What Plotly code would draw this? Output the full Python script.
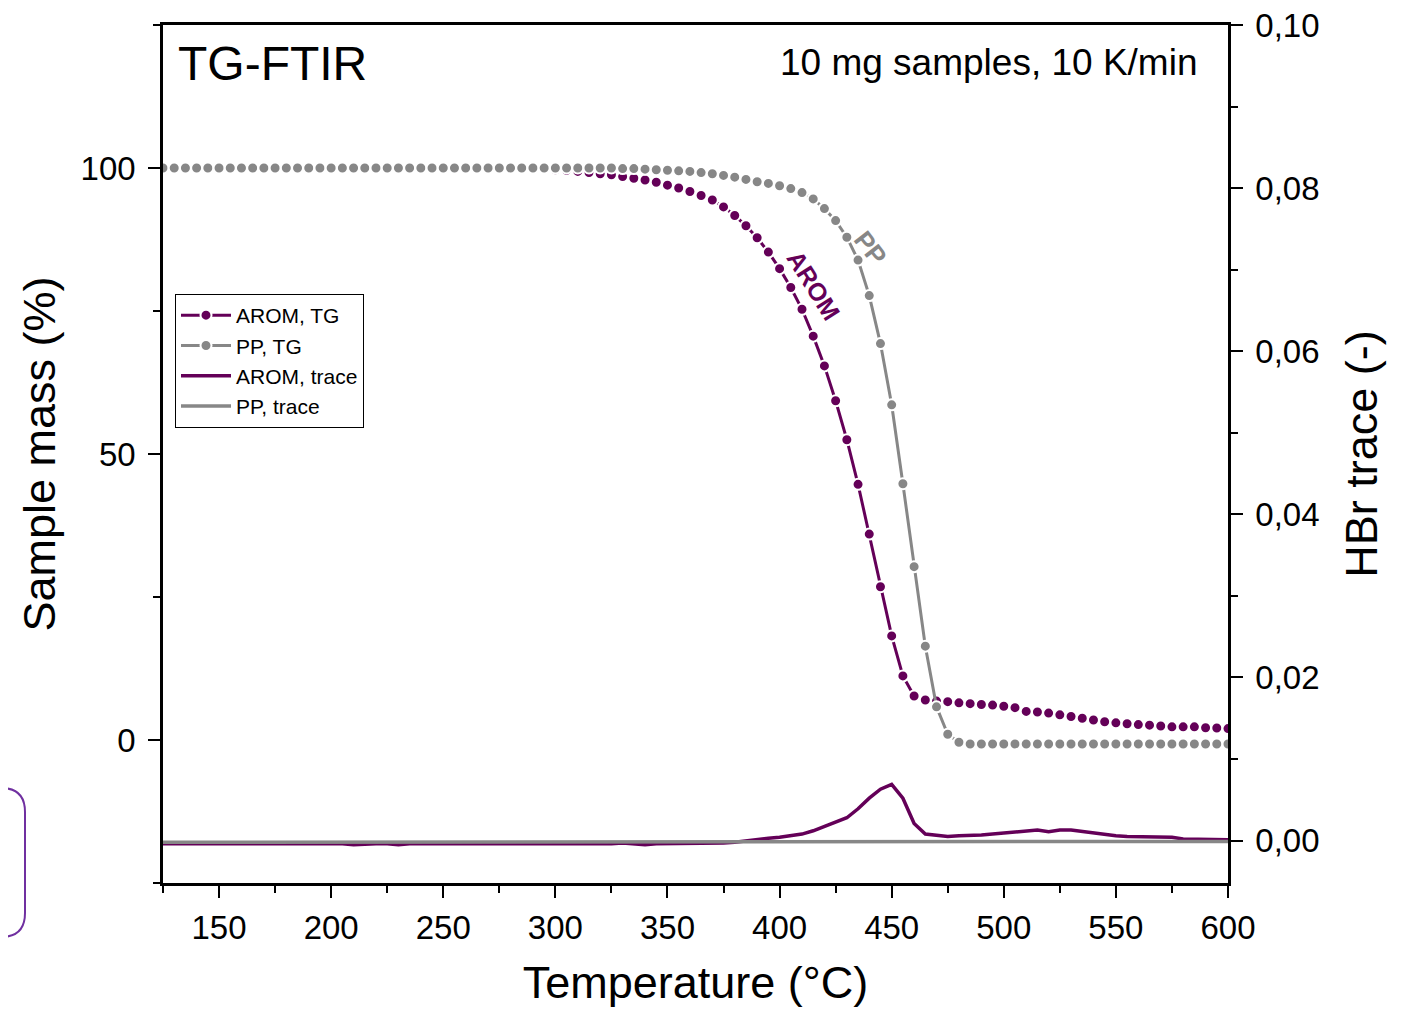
import plotly.graph_objects as go

# ---------------- data ----------------
temperature = list(range(125, 605, 5))  # °C, sampling grid (5 K steps)

arom_tg = [
    100.0, 100.0, 100.0, 100.0, 100.0, 100.0, 100.0, 100.0, 100.0, 100.0,   # 125-170
    100.0, 100.0, 100.0, 100.0, 100.0, 100.0, 100.0, 100.0, 100.0, 100.0,   # 175-220
    100.0, 100.0, 100.0, 100.0, 100.0, 100.0, 100.0, 100.0, 100.0, 100.0,   # 225-270
    100.0, 100.0, 100.0, 99.9, 99.8, 99.7, 99.6, 99.4, 99.2, 99.0,          # 275-320
    98.8, 98.5, 98.2, 97.9, 97.5, 97.0, 96.5, 95.9, 95.2, 94.4,             # 325-370
    93.2, 91.7, 89.9, 87.8, 85.3, 82.4, 79.1, 75.3, 70.6, 65.4,             # 375-420
    59.3, 52.5, 44.7, 36.0, 26.8, 18.2, 11.2, 7.7, 7.0, 6.8,                # 425-470
    6.7, 6.5, 6.35, 6.2, 6.1, 5.9, 5.65, 5.0, 4.9, 4.7,                     # 475-520
    4.4, 4.1, 3.8, 3.5, 3.2, 3.0, 2.85, 2.7, 2.6, 2.45,                     # 525-570
    2.3, 2.3, 2.3, 2.15, 2.1, 2.0,                                          # 575-600
]

pp_tg = [
    100.0, 100.0, 100.0, 100.0, 100.0, 100.0, 100.0, 100.0, 100.0, 100.0,   # 125-170
    100.0, 100.0, 100.0, 100.0, 100.0, 100.0, 100.0, 100.0, 100.0, 100.0,   # 175-220
    100.0, 100.0, 100.0, 100.0, 100.0, 100.0, 100.0, 100.0, 100.0, 100.0,   # 225-270
    100.0, 100.0, 100.0, 100.0, 100.0, 100.0, 100.0, 100.0, 100.0, 100.0,   # 275-320
    100.0, 99.9, 99.9, 99.8, 99.7, 99.6, 99.5, 99.4, 99.2, 99.0,            # 325-370
    98.7, 98.4, 98.0, 97.6, 97.3, 96.9, 96.4, 95.7, 94.6, 92.9,             # 375-420
    90.8, 87.9, 83.9, 77.7, 69.3, 58.6, 44.8, 30.3, 16.4, 5.8,              # 425-470
    1.0, -0.4, -0.7, -0.7, -0.7, -0.7, -0.7, -0.7, -0.7, -0.7,              # 475-520
    -0.7, -0.7, -0.7, -0.7, -0.7, -0.7, -0.7, -0.7, -0.7, -0.7,             # 525-570
    -0.7, -0.7, -0.7, -0.7, -0.7, -0.7,                                     # 575-600
]

arom_trace = [
    -0.0004, -0.0004, -0.0003, -0.0004, -0.0004, -0.0003, -0.0004, -0.0004, -0.0003, -0.0004,  # 125-170
    -0.0004, -0.0003, -0.0004, -0.0004, -0.0004, -0.0003, -0.0004, -0.0005, -0.0004, -0.0004,  # 175-220
    -0.0004, -0.0005, -0.0004, -0.0004, -0.0005, -0.0004, -0.0004, -0.0004, -0.0005, -0.0004,  # 225-270
    -0.0004, -0.0004, -0.0005, -0.0004, -0.0004, -0.0004, -0.0005, -0.0004, -0.0004, -0.0004,  # 275-320
    -0.0004, -0.0003, -0.0004, -0.0005, -0.0004, -0.0004, -0.0004, -0.0004, -0.0004, -0.0004,  # 325-370
    -0.0003, -0.0002, 0.0000, 0.0001, 0.0003, 0.0004, 0.0006, 0.0008, 0.0012, 0.0017,          # 375-420
    0.0022, 0.0028, 0.0039, 0.0052, 0.0063, 0.0069, 0.0052, 0.0021, 0.0008, 0.0006,            # 425-470
    0.0005, 0.0006, 0.0006, 0.0007, 0.0008, 0.0009, 0.0010, 0.0011, 0.0013, 0.0011,            # 475-520
    0.0013, 0.0013, 0.0011, 0.0010, 0.0008, 0.0006, 0.0005, 0.0005, 0.0005, 0.0004,            # 525-570
    0.0004, 0.0002, 0.0002, 0.0001, 0.0001, 0.0001,                                            # 575-600
]

pp_trace = [
    -0.0002, -0.0002, -0.0002, -0.0001, -0.0002, -0.0002, -0.0002, -0.0002, -0.0002, -0.0002,  # 125-170
    -0.0002, -0.0002, -0.0001, -0.0002, -0.0002, -0.0002, -0.0002, -0.0002, -0.0002, -0.0002,  # 175-220
    -0.0002, -0.0002, -0.0002, -0.0002, -0.0002, -0.0002, -0.0002, -0.0001, -0.0002, -0.0002,  # 225-270
    -0.0002, -0.0002, -0.0002, -0.0002, -0.0002, -0.0002, -0.0002, -0.0002, -0.0002, -0.0002,  # 275-320
    -0.0002, -0.0001, -0.0002, -0.0002, -0.0002, -0.0002, -0.0002, -0.0002, -0.0002, -0.0002,  # 325-370
    -0.0002, -0.0002, -0.0002, -0.0002, -0.0002, -0.0002, -0.0002, -0.0002, -0.0002, -0.0002,  # 375-420
    -0.0002, -0.0002, -0.0002, -0.0002, -0.0002, -0.0002, -0.0002, -0.0002, -0.0002, -0.0002,  # 425-470
    -0.0002, -0.0002, -0.0002, -0.0002, -0.0002, -0.0002, -0.0002, -0.0002, -0.0001, -0.0002,  # 475-520
    -0.0002, -0.0001, -0.0002, -0.0002, -0.0002, -0.0002, -0.0002, -0.0001, -0.0002, -0.0001,  # 525-570
    -0.0001, -0.0001, -0.0001, -0.0001, -0.0001, -0.0001,                                      # 575-600
]

x_ticks = [150, 200, 250, 300, 350, 400, 450, 500, 550, 600]
mass_ticks = [0, 50, 100]
hbr_ticks = [0.00, 0.02, 0.04, 0.06, 0.08, 0.10]

# ---------------- styling ----------------
PURPLE = "#640058"
GREY = "#878787"
FONT = "Arial, 'Liberation Sans', sans-serif"

BODY = 8                          # default page margin of the HTML body
W_FIG, H_FIG = 1409 - 2 * BODY, 1016 - 2 * BODY
L, R, T, B = 163, 1228, 25, 883   # plot area in page pixels


def xp(px):
    return (px - L) / (R - L)


def yp(py):
    return (B - py) / (B - T)


fig = go.Figure()

fig.add_trace(go.Scatter(
    x=temperature, y=arom_tg, name="AROM, TG", mode="lines+markers",
    line=dict(color=PURPLE, width=3),
    marker=dict(color=PURPLE, size=11, line=dict(color="white", width=2)),
))
fig.add_trace(go.Scatter(
    x=temperature, y=pp_tg, name="PP, TG", mode="lines+markers",
    line=dict(color=GREY, width=3),
    marker=dict(color=GREY, size=11, line=dict(color="white", width=2)),
))
fig.add_trace(go.Scatter(
    x=temperature, y=arom_trace, name="AROM, trace", mode="lines", yaxis="y2",
    line=dict(color=PURPLE, width=3.5),
))
fig.add_trace(go.Scatter(
    x=temperature, y=pp_trace, name="PP, trace", mode="lines", yaxis="y2",
    line=dict(color=GREY, width=3.5),
))

axis_common = dict(
    showline=True, linecolor="black", linewidth=2.5,
    ticks="outside", ticklen=12, tickwidth=2, tickcolor="black",
    showgrid=False, zeroline=False, ticklabeloverflow="allow",
    tickfont=dict(family=FONT, size=33, color="black"),
)

ml, mt = L - BODY, T - BODY
fig.update_layout(
    width=W_FIG, height=H_FIG,
    margin=dict(l=ml, r=W_FIG - ml - (R - L), t=mt, b=H_FIG - mt - (B - T), autoexpand=False),
    paper_bgcolor="white", plot_bgcolor="white",
    separators=", ",
    font=dict(family=FONT, color="black"),
    showlegend=True,
    legend=dict(
        x=xp(175), y=yp(294), xanchor="left", yanchor="top",
        bgcolor="white", bordercolor="black", borderwidth=1,
        font=dict(family=FONT, size=21, color="black"),
        itemwidth=50, tracegroupgap=0,
    ),
    xaxis=dict(
        range=[125, 600], tickmode="array", tickvals=x_ticks,
        mirror=True, ticklabelstandoff=2,
        minor=dict(ticks="outside", ticklen=7, tickwidth=2, tickcolor="black", dtick=25, tick0=125),
        title=dict(text="Temperature (°C)", font=dict(family=FONT, size=45, color="black"), standoff=26),
        **axis_common,
    ),
    yaxis=dict(
        range=[-25, 125], tickmode="array", tickvals=mass_ticks, ticklabelstandoff=6,
        minor=dict(ticks="outside", ticklen=7, tickwidth=2, tickcolor="black", dtick=25, tick0=0),
        title=dict(text="Sample mass (%)", font=dict(family=FONT, size=45, color="black"), standoff=11),
        **axis_common,
    ),
    yaxis2=dict(
        overlaying="y", side="right", anchor="x",
        range=[-0.0052, 0.1], tickmode="array", tickvals=hbr_ticks, tickformat=".2f",
        ticklabelstandoff=6,
        minor=dict(ticks="outside", ticklen=7, tickwidth=2, tickcolor="black", dtick=0.01, tick0=0),
        title=dict(text="HBr trace (-)", font=dict(family=FONT, size=45, color="black"), standoff=27),
        **axis_common,
    ),
)

# annotations
fig.add_annotation(
    xref="paper", yref="paper", x=xp(176), y=yp(63), xanchor="left", yanchor="middle",
    text="TG-FTIR", showarrow=False, font=dict(family=FONT, size=48, color="black"),
)
fig.add_annotation(
    xref="paper", yref="paper", x=xp(1199), y=yp(62), xanchor="right", yanchor="middle",
    text="10 mg samples, 10 K/min", showarrow=False, font=dict(family=FONT, size=37, color="black"),
)
fig.add_annotation(
    xref="x", yref="y", x=415.2, y=79.6, text="<b>AROM</b>", showarrow=False,
    textangle=58, font=dict(family=FONT, size=25, color=PURPLE),
)
fig.add_annotation(
    xref="x", yref="y", x=440.5, y=86.0, text="<b>PP</b>", showarrow=False,
    textangle=52, font=dict(family=FONT, size=26, color=GREY),
)

# purple rounded frame partially outside the figure (left edge)
rx, top, bot, rad, left = 25, 788, 937, 24, -40
path = (
    f"M {xp(left)},{yp(top)} L {xp(rx - rad)},{yp(top)} "
    f"Q {xp(rx)},{yp(top)} {xp(rx)},{yp(top + rad)} "
    f"L {xp(rx)},{yp(bot - rad)} "
    f"Q {xp(rx)},{yp(bot)} {xp(rx - rad)},{yp(bot)} "
    f"L {xp(left)},{yp(bot)}"
)
fig.add_shape(type="path", xref="paper", yref="paper", path=path,
              line=dict(color="#7030A0", width=2), fillcolor="rgba(0,0,0,0)")

fig.write_html("out.html")
